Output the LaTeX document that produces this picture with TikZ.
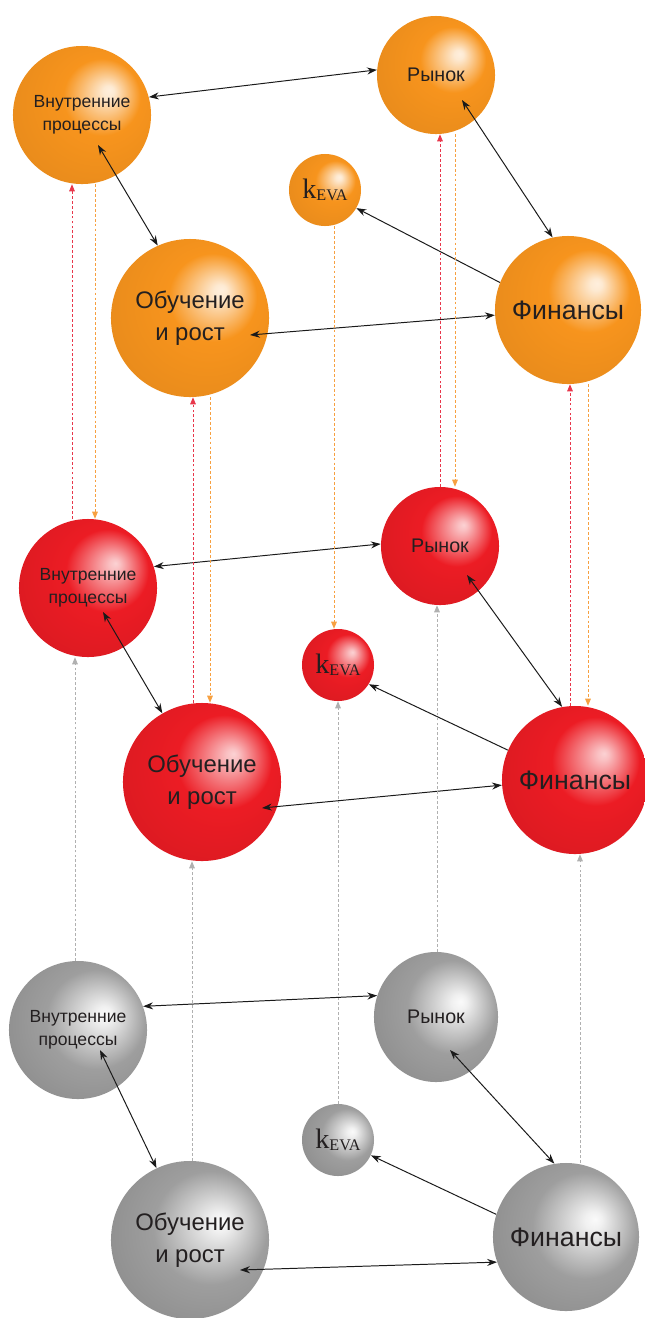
\documentclass[tikz,border=0pt]{standalone}
\usepackage{fontspec}
\setmainfont{Liberation Sans}
\newfontfamily\serifk{Liberation Serif}
\usetikzlibrary{
  positioning,
  shapes.geometric,
  arrows.meta,
  calc,
}
\definecolor{ballOrange}{HTML}{F7941D}
\definecolor{ballRed}{HTML}{EC1C24}
\definecolor{ballGray}{HTML}{9E9E9E}
\definecolor{textCol}{HTML}{231F20}
\definecolor{arrowCol}{HTML}{1A1A1A}
\definecolor{dashRed}{HTML}{E8364A}
\definecolor{dashOrange}{HTML}{F7A040}
\definecolor{dashGray}{HTML}{B0B0B0}
\pgfdeclareradialshading{orangeshade}{\pgfpoint{10bp}{9bp}}{%
  color(0bp)=(white!85!ballOrange); color(2bp)=(white!80!ballOrange);
  color(14bp)=(ballOrange); color(32bp)=(ballOrange!94!black);
  color(50bp)=(ballOrange!88!black)}
\pgfdeclareradialshading{redshade}{\pgfpoint{10bp}{9bp}}{%
  color(0bp)=(white!80!ballRed); color(2bp)=(white!72!ballRed);
  color(15bp)=(ballRed); color(32bp)=(ballRed!93!black);
  color(50bp)=(ballRed!86!black)}
\pgfdeclareradialshading{grayshade}{\pgfpoint{10bp}{6bp}}{%
  color(0bp)=(white!95!ballGray); color(3bp)=(white!85!ballGray);
  color(18bp)=(ballGray); color(32bp)=(ballGray!90!black);
  color(50bp)=(ballGray!82!black)}
\newcommand{\kEVA}{{\serifk\fontsize{20}{20}\selectfont k}\raisebox{-1.5pt}{\serifk\fontsize{11.5}{12}\selectfont EVA}}
\tikzset{
  ball/.style={
    ellipse, inner sep=0pt, align=center, text=textCol, shade,
  },
  oball/.style={ball, shading=orangeshade},
  rball/.style={ball, shading=redshade},
  gball/.style={ball, shading=grayshade},
  ipball/.style={minimum width=3.45cm, minimum height=3.45cm,
    inner xsep=-10pt, font=\fontsize{12.5}{16}\selectfont},
  mball/.style={minimum width=2.95cm, minimum height=2.95cm,
    font=\fontsize{14}{16}\selectfont},
  kball/.style={minimum width=1.8cm, minimum height=1.8cm, inner xsep=-5pt},
  lball/.style={minimum width=3.95cm, minimum height=3.95cm,
    inner xsep=-10pt, font=\fontsize{17}{22.5}\selectfont},
  fball/.style={minimum width=3.65cm, minimum height=3.7cm,
    inner xsep=-15pt, font=\fontsize{19}{21}\selectfont},
  biarrow/.style={{Stealth[length=7pt,width=5pt]}-{Stealth[length=7pt,width=5pt]},
    arrowCol, line width=0.7pt},
  arrow/.style={-{Stealth[length=7pt,width=5pt]}, arrowCol, line width=0.7pt},
  vdash/.style={-{Triangle[length=5pt,width=4pt]}, dash pattern=on 2pt off 1.5pt,
    line width=0.5pt},
  redup/.style={vdash, dashRed},
  orangedown/.style={vdash, dashOrange},
  grayup/.style={vdash, dashGray},
}

\begin{document}
\begin{tikzpicture}[x=0.025cm, y=-0.025cm]

  \fill[white] (0,0) rectangle (645,1318);
  \useasboundingbox (0,0) rectangle (645,1318);

  % Orange layer
  \node[oball, ipball] (ipO) at (82, 115) {Внутренние\\процессы};
  \node[oball, mball] (mO) at (436, 75) {Рынок};
  \node[oball, kball] (kO) at (325, 190) {\kEVA};
  \node[oball, lball] (lO) at (190, 318) {Обучение\\и рост};
  \node[oball, fball] (fO) at (568, 310) {Финансы};

  \draw[biarrow] (ipO.15) -- (mO.175);
  \draw[biarrow] ($(ipO)+(16,30)$) -- (lO.114);
  \draw[biarrow] ($(mO)+(26,25)$) -- (fO.102);
  \draw[biarrow] ($(lO)+(60,17)$) -- (fO.184);
  \draw[arrow] (fO.158) -- (kO.-30);

  % Red layer
  \node[rball, ipball] (ipR) at (88, 588) {Внутренние\\процессы};
  \node[rball, mball] (mR) at (440, 546) {Рынок};
  \node[rball, kball] (kR) at (338, 665) {\kEVA};
  \node[rball, lball] (lR) at (202, 782) {Обучение\\и рост};
  \node[rball, fball] (fR) at (575, 780) {Финансы};

  \draw[biarrow] (ipR.18) -- (mR.178);
  \draw[biarrow] ($(ipR)+(15,24)$) -- (lR.120);
  \draw[biarrow] ($(mR)+(27,29)$) -- (fR.100);
  \draw[biarrow] ($(lR)+(60,26)$) -- (fR.184);
  \draw[arrow] (fR.156) -- (kR.-32);

  % Gray layer
  \node[gball, ipball] (ipG) at (78, 1030) {Внутренние\\процессы};
  \node[gball, mball, minimum width=3.1cm, minimum height=3.25cm] (mG) at (436, 1017) {Рынок};
  \node[gball, kball] (kG) at (338, 1140) {\kEVA};
  \node[gball, lball] (lG) at (190, 1240) {Обучение\\и рост};
  \node[gball, fball] (fG) at (566, 1237) {Финансы};

  \draw[biarrow] (ipG.20) -- (mG.160);
  \draw[biarrow] ($(ipG)+(22,20)$) -- (lG.115);
  \draw[biarrow] ($(mG)+(14,33)$) -- (fG.99);
  \draw[biarrow] ($(lG)+(50,30)$) -- (fG.200);
  \draw[arrow] (fG.162) -- (kG.-25);

  % Orange <-> red links
  \draw[redup] ($(ipR.north)+(-16,0)$) -- ($(ipO.south)+(-10,0)$);
  \draw[orangedown] ($(ipO.south)+(13,0)$) -- ($(ipR.north)+(7,0)$);
  \draw[redup] ($(lR.north)+(-9,0)$) -- ($(lO.south)+(3,0)$);
  \draw[orangedown] ($(lO.south)+(20,0)$) -- ($(lR.north)+(8,0)$);
  \draw[orangedown] ($(kO.south)+(9,0)$) -- ($(kR.north)+(-4,0)$);
  \draw[redup] ($(mR.north)+(0,0)$) -- ($(mO.south)+(4,0)$);
  \draw[orangedown] ($(mO.south)+(19,0)$) -- ($(mR.north)+(15,0)$);
  \draw[redup] ($(fR.north)+(-5,0)$) -- ($(fO.south)+(2,0)$);
  \draw[orangedown] ($(fO.south)+(20,0)$) -- ($(fR.north)+(13,0)$);

  % Red <-> gray links
  \draw[grayup] ($(ipG.north)+(-3,0)$) -- ($(ipR.south)+(-13,0)$);
  \draw[grayup] ($(lG.north)+(2,0)$) -- ($(lR.south)+(-10,0)$);
  \draw[grayup] (kG.north) -- (kR.south);
  \draw[grayup] ($(mG.north)+(1,0)$) -- ($(mR.south)+(-3,0)$);
  \draw[grayup] ($(fG.north)+(14,0)$) -- ($(fR.south)+(5,0)$);

\end{tikzpicture}
\end{document}
